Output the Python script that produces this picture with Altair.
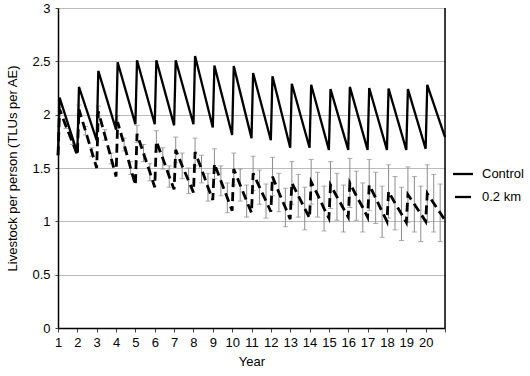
import altair as alt
import pandas as pd

# ---------------- data ----------------
years = list(range(1, 21))

control_start = 1.62
control_peak = [2.16, 2.26, 2.41, 2.49, 2.51, 2.51, 2.51, 2.55, 2.46, 2.455,
                2.39, 2.36, 2.29, 2.28, 2.24, 2.26, 2.25, 2.245, 2.24, 2.28]
control_trough = [1.64, 1.76, 1.86, 1.91, 1.91, 1.90, 1.91, 1.88, 1.81, 1.78,
                  1.76, 1.69, 1.69, 1.67, 1.67, 1.67, 1.67, 1.67, 1.68, 1.79]

dist_start = 1.62
dist_peak = [2.05, 2.05, 2.03, 1.93, 1.82, 1.75, 1.67, 1.65, 1.54, 1.49,
             1.45, 1.42, 1.36, 1.37, 1.34, 1.36, 1.34, 1.28, 1.25, 1.26]
dist_mid1 = [1.89, 1.85, 1.81, 1.72, 1.64, 1.59, 1.52, 1.49, 1.38, 1.34,
             1.32, 1.27, 1.24, 1.25, 1.23, 1.24, 1.22, 1.17, 1.16, 1.17]
dist_mid2 = [1.74, 1.65, 1.59, 1.50, 1.46, 1.42, 1.38, 1.32, 1.22, 1.19,
             1.19, 1.13, 1.12, 1.12, 1.12, 1.13, 1.09, 1.07, 1.07, 1.08]
dist_trough = [1.62, 1.50, 1.42, 1.34, 1.32, 1.30, 1.27, 1.20, 1.10, 1.08,
               1.09, 1.02, 1.03, 1.03, 1.04, 1.04, 1.00, 0.99, 1.00, 1.01]
dist_err = [0.02, 0.04, 0.05, 0.06, 0.08, 0.10, 0.12, 0.13, 0.14, 0.15,
            0.16, 0.18, 0.20, 0.21, 0.22, 0.23, 0.24, 0.25, 0.26, 0.27]

x_ticks = list(range(1, 22))
y_ticks = [0, 0.5, 1, 1.5, 2, 2.5, 3]
legend_labels = ["Control", "0.2 km"]
x_end = 21
y_top = 3

# ---------------- tables ----------------
ctrl_rows = [{"t": 1.0, "v": control_start}]
for y, p, tr in zip(years, control_peak, control_trough):
    ctrl_rows.append({"t": y + 1 / 12, "v": p})
    ctrl_rows.append({"t": y + 1.0, "v": tr})
ctrl_df = pd.DataFrame(ctrl_rows)

dist_rows = [{"t": 1.0, "v": dist_start}]
err_rows = []
for y, p, m1, m2, tr, e in zip(years, dist_peak, dist_mid1, dist_mid2, dist_trough, dist_err):
    for off, val in ((1 / 12, p), (5 / 12, m1), (9 / 12, m2)):
        dist_rows.append({"t": y + off, "v": val})
        err_rows.append({"t": y + off, "lo": val - e, "hi": val + e})
    dist_rows.append({"t": y + 1.0, "v": tr})
dist_df = pd.DataFrame(dist_rows)
err_df = pd.DataFrame(err_rows)
border_df = pd.DataFrame({"t": [x_end], "lo": [0], "hi": [y_top]})

FONT = "Liberation Sans"

x_scale = alt.Scale(domain=[1, 21], nice=False, zero=False)
y_scale = alt.Scale(domain=[0, 3], nice=False)

x_axis = alt.Axis(values=x_ticks, labelExpr="datum.value <= 20 ? '' + datum.value : ''",
                  grid=False, title="Year", domainColor="black", domainWidth=1.5,
                  tickColor="#444", tickSize=4, labelFontSize=13, titleFontSize=13,
                  labelFont=FONT, titleFont=FONT, titleFontWeight="normal",
                  labelColor="black", titleColor="black", labelPadding=4, titlePadding=6,
                  labelFlush=False, labelOverlap=False, labelBound=False, tickCount=21)
y_axis = alt.Axis(values=y_ticks, labelExpr="'' + datum.value", grid=True,
                  gridColor="#bcbcbc", gridWidth=1, domainColor="black", domainWidth=1.5,
                  tickColor="#444", tickSize=3, labelFontSize=13, titleFontSize=13,
                  labelFont=FONT, titleFont=FONT, titleFontWeight="normal",
                  labelColor="black", titleColor="black", labelPadding=5,
                  labelOverlap=False,
                  title="Livestock per person (TLUs per AE)", titlePadding=12)


def X(field):
    return alt.X(field, type="quantitative", scale=x_scale, axis=x_axis)


def Y(field):
    return alt.Y(field, type="quantitative", scale=y_scale, axis=y_axis)


err_rule = alt.Chart(err_df).mark_rule(color="#8c8c8c", strokeWidth=1).encode(
    x=X("t"), y=Y("lo"), y2="hi:Q")
cap_lo = alt.Chart(err_df).mark_tick(color="#8c8c8c", orient="horizontal", size=5, thickness=1).encode(
    x=X("t"), y=Y("lo"))
cap_hi = alt.Chart(err_df).mark_tick(color="#8c8c8c", orient="horizontal", size=5, thickness=1).encode(
    x=X("t"), y=Y("hi"))

ctrl_line = alt.Chart(ctrl_df).mark_line(color="black", strokeWidth=2.3).encode(
    x=X("t"), y=Y("v"))
dist_line = alt.Chart(dist_df).mark_line(color="black", strokeWidth=2.8, strokeDash=[9, 5]).encode(
    x=X("t"), y=Y("v"))

border = alt.Chart(border_df).mark_rule(color="black", strokeWidth=1.5).encode(
    x=X("t"), y=Y("lo"), y2="hi:Q")

legend_layers = []
for i, lab in enumerate(legend_labels):
    ldf = pd.DataFrame({"label": [lab]})
    ypix = 166 + 23 * i
    x1 = 395 if i == 0 else 397
    x2 = 415 if i == 0 else 413
    legend_layers.append(
        alt.Chart(ldf).mark_rule(color="black", strokeWidth=2.3).encode(
            x=alt.value(x1), x2=alt.value(x2), y=alt.value(ypix)))
    legend_layers.append(
        alt.Chart(ldf).mark_text(align="left", baseline="middle", fontSize=13,
                                 font=FONT, color="black").encode(
            x=alt.value(424), y=alt.value(ypix), text="label:N"))

chart = alt.layer(err_rule, cap_lo, cap_hi, ctrl_line, dist_line, border, *legend_layers).properties(
    width=387, height=320,
    autosize=alt.AutoSizeParams(type="none"),
    padding={"left": 58, "top": 8, "right": 85, "bottom": 48},
).configure_view(stroke=None).configure(background="white")

chart.save("out.html", embed_options={"renderer": "svg", "actions": False})
